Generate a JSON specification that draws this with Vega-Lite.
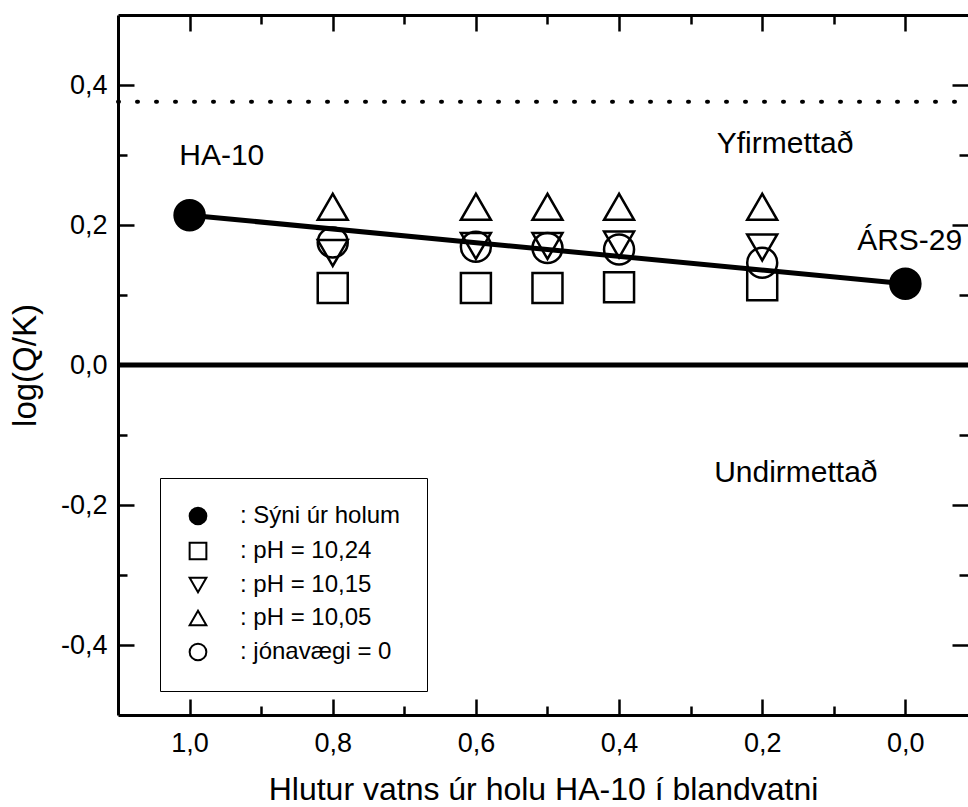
{
  "$schema": "https://vega.github.io/schema/vega-lite/v6.json",
  "autosize": "none",
  "width": 850,
  "height": 700,
  "padding": {"left": 118, "top": 15, "right": 0, "bottom": 92},
  "background": "white",
  "config": {
    "view": {"stroke": null},
    "axis": {"grid": false, "domainColor": "black", "tickColor": "black", "labelColor": "black", "titleColor": "black"}
  },
  "datasets": {
    "pts": [
      {"x": 1.0, "y": 0.214, "series": "Sýni úr holum"},
      {"x": 0.0, "y": 0.116, "series": "Sýni úr holum"},
      {"x": 0.8, "y": 0.110, "series": "pH = 10,24"},
      {"x": 0.6, "y": 0.110, "series": "pH = 10,24"},
      {"x": 0.5, "y": 0.110, "series": "pH = 10,24"},
      {"x": 0.4, "y": 0.111, "series": "pH = 10,24"},
      {"x": 0.2, "y": 0.114, "series": "pH = 10,24"},
      {"x": 0.8, "y": 0.160, "series": "pH = 10,15"},
      {"x": 0.6, "y": 0.170, "series": "pH = 10,15"},
      {"x": 0.5, "y": 0.170, "series": "pH = 10,15"},
      {"x": 0.4, "y": 0.172, "series": "pH = 10,15"},
      {"x": 0.2, "y": 0.168, "series": "pH = 10,15"},
      {"x": 0.8, "y": 0.226, "series": "pH = 10,05"},
      {"x": 0.6, "y": 0.226, "series": "pH = 10,05"},
      {"x": 0.5, "y": 0.226, "series": "pH = 10,05"},
      {"x": 0.4, "y": 0.226, "series": "pH = 10,05"},
      {"x": 0.2, "y": 0.226, "series": "pH = 10,05"},
      {"x": 0.8, "y": 0.175, "series": "jónavægi = 0"},
      {"x": 0.6, "y": 0.169, "series": "jónavægi = 0"},
      {"x": 0.5, "y": 0.167, "series": "jónavægi = 0"},
      {"x": 0.4, "y": 0.165, "series": "jónavægi = 0"},
      {"x": 0.2, "y": 0.146, "series": "jónavægi = 0"}
    ],
    "labels": [
      {"x": 0.955, "y": 0.286, "text": "HA-10"},
      {"x": 0.168, "y": 0.303, "text": "Yfirmettað"},
      {"x": 0.153, "y": -0.167, "text": "Undirmettað"},
      {"x": -0.006, "y": 0.164, "text": "ÁRS-29"}
    ],
    "one": [{}]
  },
  "resolve": {"axis": {"x": "independent", "y": "independent"}},
  "layer": [
    {
      "data": {"name": "pts"},
      "transform": [{"filter": "datum.series == 'Sýni úr holum'"}],
      "mark": {"type": "line", "color": "black", "strokeWidth": 5},
      "encoding": {
        "x": {"field": "x", "type": "quantitative",
          "scale": {"domain": [-0.0875, 1.1], "reverse": true, "nice": false, "zero": false},
          "axis": {
            "orient": "bottom",
            "values": [0, 0.1, 0.2, 0.3, 0.4, 0.5, 0.6, 0.7, 0.8, 0.9, 1.0],
            "tickSize": {"condition": {"test": "round(datum.value*10) % 2 == 0", "value": -16}, "value": -9},
            "tickWidth": 2.5,
            "domainWidth": 3,
            "labelExpr": "round(datum.value*10) % 2 == 0 ? replace(format(datum.value, '.1f'), '.', ',') : ''",
            "labelFont": "Liberation Sans", "labelFontSize": 27,
            "labelPadding": 31, "labelFlush": false, "labelOverlap": false,
            "title": "Hlutur vatns úr holu HA-10 í blandvatni",
            "titleFont": "Liberation Sans", "titleFontSize": 32, "titleFontWeight": "normal",
            "titlePadding": 11
          }
        },
        "y": {"field": "y", "type": "quantitative",
          "scale": {"domain": [-0.5, 0.5], "nice": false, "zero": false},
          "axis": {
            "orient": "left",
            "values": [-0.4, -0.3, -0.2, -0.1, 0, 0.1, 0.2, 0.3, 0.4],
            "tickSize": {"condition": {"test": "round(datum.value*10) % 2 == 0", "value": -16}, "value": -9},
            "tickWidth": 2.5,
            "domainWidth": 3,
            "labelExpr": "round(datum.value*10) % 2 == 0 ? (datum.value < -0.001 ? '-' : '') + replace(format(abs(datum.value), '.1f'), '.', ',') : ''",
            "labelFont": "Liberation Sans", "labelFontSize": 27,
            "labelPadding": 27, "labelFlush": false, "labelOverlap": false,
            "title": "log(Q/K)",
            "titleFont": "Liberation Sans", "titleFontSize": 33, "titleFontWeight": "normal",
            "titlePadding": 18
          }
        }
      }
    },
    {
      "data": {"name": "one"},
      "mark": {"type": "rule", "color": "black", "strokeWidth": 5},
      "encoding": {
        "x": {"datum": 1.1, "type": "quantitative", "scale": {"domain": [-0.0875, 1.1], "reverse": true, "nice": false, "zero": false},
          "axis": {
            "orient": "top",
            "values": [0, 0.1, 0.2, 0.3, 0.4, 0.5, 0.6, 0.7, 0.8, 0.9, 1.0],
            "tickSize": {"condition": {"test": "round(datum.value*10) % 2 == 0", "value": -16}, "value": -9},
            "tickWidth": 2.5, "domainWidth": 3, "labels": false, "title": null
          }
        },
        "x2": {"datum": -0.0875},
        "y": {"datum": 0, "type": "quantitative", "scale": {"domain": [-0.5, 0.5], "nice": false, "zero": false},
          "axis": {
            "orient": "right",
            "values": [-0.4, -0.3, -0.2, -0.1, 0, 0.1, 0.2, 0.3, 0.4],
            "tickSize": {"condition": {"test": "round(datum.value*10) % 2 == 0", "value": -16}, "value": -9},
            "tickWidth": 2.5, "domain": false, "labels": false, "title": null
          }
        }
      }
    },
    {
      "data": {"name": "one"},
      "mark": {"type": "rule", "color": "black", "strokeWidth": 4, "strokeDash": [1, 18], "strokeCap": "round"},
      "encoding": {
        "x": {"datum": 1.1, "type": "quantitative", "axis": null},
        "x2": {"datum": -0.0875},
        "y": {"datum": 0.376, "type": "quantitative", "axis": null}
      }
    },
    {
      "data": {"name": "pts"},
      "mark": {"type": "point", "filled": false, "strokeWidth": 2.5, "opacity": 1},
      "encoding": {
        "x": {"field": "x", "type": "quantitative", "axis": null},
        "y": {"field": "y", "type": "quantitative", "axis": null},
        "shape": {"field": "series", "type": "nominal",
          "scale": {"domain": ["Sýni úr holum", "pH = 10,24", "pH = 10,15", "pH = 10,05", "jónavægi = 0"],
                    "range": ["circle", "square", "triangle-down", "triangle-up", "circle"]},
          "legend": {
            "title": null, "orient": "none", "legendX": 42, "legendY": 463,
            "strokeColor": "black", "fillColor": "white", "padding": 26,
            "symbolSize": 280, "symbolStrokeWidth": 2,
            "labelFont": "Liberation Sans", "labelFontSize": 24, "labelColor": "black", "labelLimit": 400,
            "labelOffset": 30, "rowPadding": 9,
            "labelExpr": "': ' + datum.label"
          }
        },
        "fill": {"field": "series", "type": "nominal",
          "scale": {"domain": ["Sýni úr holum", "pH = 10,24", "pH = 10,15", "pH = 10,05", "jónavægi = 0"],
                    "range": ["black", "transparent", "transparent", "transparent", "transparent"]},
          "legend": {
            "title": null, "orient": "none", "legendX": 42, "legendY": 463,
            "strokeColor": "black", "fillColor": "white", "padding": 26,
            "symbolSize": 280, "symbolStrokeWidth": 2,
            "labelFont": "Liberation Sans", "labelFontSize": 24, "labelColor": "black", "labelLimit": 400,
            "labelOffset": 30, "rowPadding": 9,
            "labelExpr": "': ' + datum.label"
          }
        },
        "stroke": {"field": "series", "type": "nominal",
          "scale": {"domain": ["Sýni úr holum", "pH = 10,24", "pH = 10,15", "pH = 10,05", "jónavægi = 0"],
                    "range": ["black", "black", "black", "black", "black"]},
          "legend": {
            "title": null, "orient": "none", "legendX": 42, "legendY": 463,
            "strokeColor": "black", "fillColor": "white", "padding": 26,
            "symbolSize": 280, "symbolStrokeWidth": 2,
            "labelFont": "Liberation Sans", "labelFontSize": 24, "labelColor": "black", "labelLimit": 400,
            "labelOffset": 30, "rowPadding": 9,
            "labelExpr": "': ' + datum.label"
          }
        },
        "size": {"value": 900}
      }
    },
    {
      "data": {"name": "labels"},
      "mark": {"type": "text", "font": "Liberation Sans", "fontSize": 30, "color": "black", "align": "center", "baseline": "alphabetic"},
      "encoding": {
        "x": {"field": "x", "type": "quantitative", "axis": null},
        "y": {"field": "y", "type": "quantitative", "axis": null},
        "text": {"field": "text"}
      }
    }
  ]
}
